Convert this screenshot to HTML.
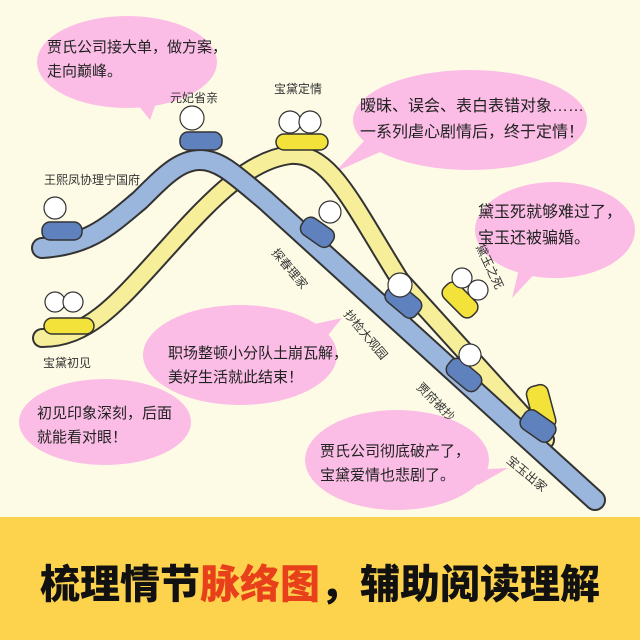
<!DOCTYPE html>
<html><head><meta charset="utf-8"><style>
html,body{margin:0;padding:0}
body{width:640px;height:640px;position:relative;overflow:hidden;background:#fdfbe6;font-family:"Liberation Sans","Noto Sans CJK SC",sans-serif}
.t{position:absolute;color:#222;font-size:15px;line-height:24px;white-space:nowrap}
.l{position:absolute;color:#333;font-size:12px;white-space:nowrap}
.band{position:absolute;left:0;top:517px;width:640px;height:123px;background:#fdd34e}
.title{position:absolute;left:0;top:552px;width:640px;text-align:center;font-size:40px;font-weight:900;color:#111;font-family:"Noto Sans CJK SC",sans-serif}
.title span{color:#e8401a}
</style></head><body>
<svg width="640" height="517" style="position:absolute;left:0;top:0">
<g fill="#fbbde6">
<ellipse cx="127" cy="62" rx="90" ry="46"/><path d="M130,95 L150,120 L160,92Z"/>
<ellipse cx="470" cy="120" rx="117" ry="50"/><path d="M365,140 L335,172 L380,152Z"/>
<ellipse cx="555" cy="230" rx="80" ry="48"/><path d="M520,265 L512,298 L540,268Z"/>
<ellipse cx="240" cy="355" rx="97" ry="50"/><path d="M310,325 L342,318 L320,345Z"/>
<ellipse cx="105" cy="422" rx="86" ry="43"/><path d="M70,405 L74,384 L96,395Z"/>
<ellipse cx="397" cy="460" rx="92" ry="50"/><path d="M470,470 L508,468 L478,485Z"/>
</g>
<g fill="none" stroke-linecap="round">
<path d="M42,338 C90,338 120,300 170,245 C215,195 250,160 290,155 C330,152 350,200 400,280 L545,440" stroke="#333" stroke-width="20"/>
<path d="M42,338 C90,338 120,300 170,245 C215,195 250,160 290,155 C330,152 350,200 400,280 L545,440" stroke="#f7ee9a" stroke-width="16"/>
<path d="M42,248 C90,245 110,225 140,200 C165,175 180,160 200,160 C220,160 235,175 265,200 L595,500" stroke="#333" stroke-width="22"/>
<path d="M42,248 C90,245 110,225 140,200 C165,175 180,160 200,160 C220,160 235,175 265,200 L595,500" stroke="#9bb6dc" stroke-width="18"/>
</g>
<g stroke="#333" stroke-width="1.5">
<rect x="180" y="132" width="42" height="18" rx="8" fill="#5f82bf"/>
<rect x="42" y="222" width="40" height="18" rx="8" fill="#5f82bf"/>
<rect x="276" y="134" width="52" height="16" rx="8" fill="#f2e23a"/>
<rect x="44" y="318" width="50" height="16" rx="8" fill="#f2e23a"/>
<rect x="300" y="222" width="35" height="20" rx="8" fill="#5f82bf" transform="rotate(35 317 232)"/>
<rect x="385" y="290" width="38" height="22" rx="8" fill="#5f82bf" transform="rotate(40 404 300)"/>
<rect x="440" y="290" width="40" height="20" rx="8" fill="#f2e23a" transform="rotate(45 460 300)"/>
<rect x="445" y="365" width="38" height="20" rx="8" fill="#5f82bf" transform="rotate(40 464 375)"/>
<rect x="530" y="385" width="22" height="45" rx="8" fill="#f2e23a" transform="rotate(-15 541 407)"/>
<rect x="520" y="415" width="36" height="22" rx="8" fill="#5f82bf" transform="rotate(35 538 426)"/>
</g>
<g fill="#fff" stroke="#333" stroke-width="1.2">
<circle cx="192" cy="118" r="12"/><circle cx="55" cy="208" r="11"/>
<circle cx="290" cy="122" r="11"/><circle cx="310" cy="122" r="11"/>
<circle cx="55" cy="302" r="10"/><circle cx="73" cy="302" r="10"/>
<circle cx="330" cy="212" r="11"/><circle cx="400" cy="285" r="12"/>
<circle cx="462" cy="278" r="10"/><circle cx="478" cy="290" r="10"/>
<circle cx="470" cy="355" r="11"/>
</g>
</svg>
<div class="t" style="left:47px;top:36px">贾氏公司接大单，做方案，<br>走向巅峰。</div>
<div class="t" style="left:360px;top:94px;font-size:16px;line-height:26px">暧昧、误会、表白表错对象……<br>一系列虐心剧情后，终于定情！</div>
<div class="t" style="left:478px;top:200px;font-size:16px;line-height:26px">黛玉死就够难过了，<br>宝玉还被骗婚。</div>
<div class="t" style="left:168px;top:342px">职场整顿小分队土崩瓦解，<br>美好生活就此结束！</div>
<div class="t" style="left:37px;top:402px">初见印象深刻，后面<br>就能看对眼！</div>
<div class="t" style="left:320px;top:440px">贾氏公司彻底破产了，<br>宝黛爱情也悲剧了。</div>
<div class="l" style="left:170px;top:89px">元妃省亲</div>
<div class="l" style="left:274px;top:80px">宝黛定情</div>
<div class="l" style="left:44px;top:171px">王熙凤协理宁国府</div>
<div class="l" style="left:43px;top:354px">宝黛初见</div>
<div class="l" style="left:266px;top:260px;transform:rotate(50deg)">探春理家</div>
<div class="l" style="left:336px;top:326px;transform:rotate(50deg)">抄检大观园</div>
<div class="l" style="left:412px;top:393px;transform:rotate(45deg)">贾府被抄</div>
<div class="l" style="left:503px;top:465px;transform:rotate(40deg)">宝玉出家</div>
<div class="l" style="left:466px;top:258px;transform:rotate(65deg)">黛玉之死</div>
<div class="band"></div>
<div class="title">梳理情节<span>脉络图</span>，辅助阅读理解</div>
</body></html>
